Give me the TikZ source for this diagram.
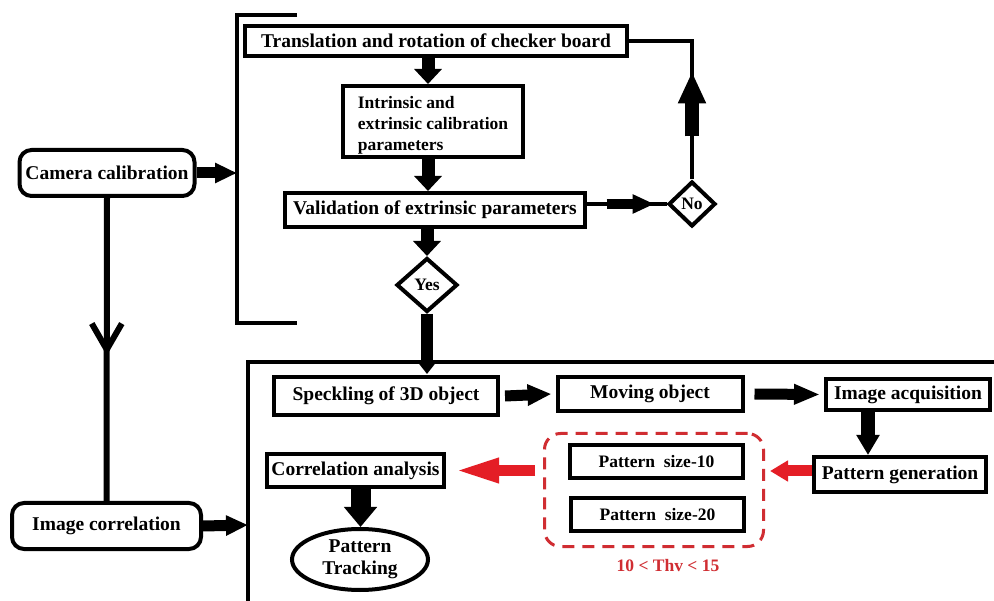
\documentclass[tikz,border=0pt]{standalone}
\usepackage{fontspec}
\setmainfont{Liberation Serif}
\usetikzlibrary{arrows.meta,shapes.geometric,calc,decorations.markings}
\definecolor{rd}{RGB}{228,30,38}
\definecolor{dred}{RGB}{208,45,50}
\begin{document}
\begin{tikzpicture}[x=1pt,y=-1pt,
  txt/.style={font=\fontsize{19.5}{22}\selectfont\bfseries},
  stxt/.style={font=\fontsize{17.5}{21}\selectfont\bfseries},
  box/.style={draw,line width=4pt,inner sep=0pt,txt},
  rbox/.style={box,rounded corners=12pt},
  dia/.style={draw,diamond,line width=4pt,inner sep=0pt,stxt},
  frame/.style={line width=4pt},
  thin/.style={line width=4pt},
  sidearrow/.style={line width=11pt,-{Triangle[length=22pt,width=19pt]}},
  downarrow/.style={line width=13pt,-{Triangle[length=15pt,width=27pt]}},
  redarrow/.style={rd,line width=11pt,-{Triangle[length=18pt,width=20pt]}},
]
\useasboundingbox (0,0) rectangle (994,601);
\fill[white] (0,0) rectangle (994,601);

% top part
\node[rbox,minimum width=175pt,minimum height=46pt] (cam) at (107,173) {Camera calibration};
\node[rbox,minimum width=189pt,minimum height=46pt] (imc) at (106.5,526) {Image correlation};
\node[box,minimum width=382pt,minimum height=30pt] (trans) at (436,41) {Translation and rotation of checker board};
\node[box,minimum width=180pt,minimum height=71pt,
  label={[stxt,align=left,yshift=-4pt]center:Intrinsic and\\extrinsic calibration\\parameters}] (intr) at (433,121.5) {};
\node[box,minimum width=300pt,minimum height=34pt] (val) at (435,210) {Validation of extrinsic parameters};
\node[dia,minimum width=47pt,minimum height=45pt] (no) at (692,204) {No};
\node[dia,minimum width=61pt,minimum height=54pt] (yes) at (427,285) {Yes};

% bracket
\draw[frame] (297,15) -| (237,323) -- (297,323);
\coordinate (brk) at (237,173);

% lower frame
\draw[frame] (248,603) |- (996,362);
\coordinate (bigtop) at (427,374);
\coordinate (bigleft) at (248,525);

% lower nodes
\node[box,minimum width=224pt,minimum height=38pt] (spk) at (386,396) {Speckling of 3D object};
\node[box,minimum width=185pt,minimum height=34pt] (mov) at (650,394) {Moving object};
\node[box,minimum width=164pt,minimum height=31pt] (acq) at (908,394.5) {Image acquisition};
\node[box,minimum width=172pt,minimum height=35pt] (pg) at (900,474.5) {Pattern generation};
\node[box,stxt,minimum width=173pt,minimum height=33pt] (ps10) at (656.5,461.5) {Pattern~ size-10};
\node[box,stxt,minimum width=173pt,minimum height=33pt] (ps20) at (657.5,514.5) {Pattern~ size-20};
\node[draw=dred,line width=3pt,dash pattern=on 12pt off 8pt,rounded corners=16pt,minimum width=219pt,minimum height=113pt] (grp) at (654,490) {};
\node[stxt,text=dred] (thv) at (668,566) {10 < Thv < 15};
\node[box,minimum width=177pt,minimum height=33pt] (corr) at (355.5,470.5) {Correlation analysis};
\node[draw,ellipse,line width=4pt,inner sep=0pt,txt,minimum width=136pt,minimum height=61pt,align=center] (trk) at (360,559.5) {Pattern\\Tracking};

% connectors top
\draw[sidearrow] (cam.east) -- (brk);
\draw[downarrow] (trans.south) ++(-8pt,0) coordinate (t1) -- (t1 |- intr.north);
\draw[downarrow] (intr.south) ++(-5pt,0) coordinate (i1) -- (i1 |- val.north);
\draw[downarrow] (val.south) ++(-8pt,0) coordinate (v1) -- (yes.north);
\draw[thin] (val.east |- no.west) -- (no.west);
\draw[line width=10pt,-{Triangle[length=22pt,width=18pt]}] ([xshift=-60pt]no.west) -- ([xshift=-12pt]no.west);
\draw[thin] (no.north) |- (trans.east);
\draw[line width=14pt,-{Triangle[length=32pt,width=26pt]}] ([yshift=43pt]no.north) -- ([yshift=108pt]no.north);
\draw[line width=12pt,-{Triangle[length=12pt,width=18pt]}] (yes.south) -- (bigtop);

% camera -> image correlation
\draw[line width=6pt,postaction={decorate},decoration={markings,mark=at position 0.52 with {\arrow{Straight Barb[length=26pt,width=30pt]}}}] (cam.south) -- (imc.north);
\draw[sidearrow] (imc.east) -- (bigleft);

% connectors bottom
\draw[sidearrow,-{Triangle[length=24pt,width=20pt]}] (spk.east) ++(5pt,0) coordinate (s1) -- ([xshift=-4pt]mov.west);
\draw[sidearrow,-{Triangle[length=26pt,width=19pt]}] (mov.east) ++(10pt,0) coordinate (m1) -- ([xshift=-4pt]acq.west);
\draw[downarrow,line width=14pt,-{Triangle[length=20pt,width=22pt]}] (acq.south -| 868,0) coordinate (a1) -- (a1 |- pg.north);
\draw[redarrow] (pg.west) ++(0,3.5pt) coordinate (p1) -- ([xshift=5pt]p1 -| grp.east);
\draw[redarrow,-{Triangle[length=46pt,width=22pt]}] ([xshift=-8pt]grp.west |- corr.east) -- ([xshift=7pt]corr.east);
\draw[downarrow,line width=20pt,-{Triangle[length=20pt,width=32pt]}] ([xshift=5pt]corr.south) -- ([xshift=5pt]corr.south |- trk.north);
\end{tikzpicture}
\end{document}
